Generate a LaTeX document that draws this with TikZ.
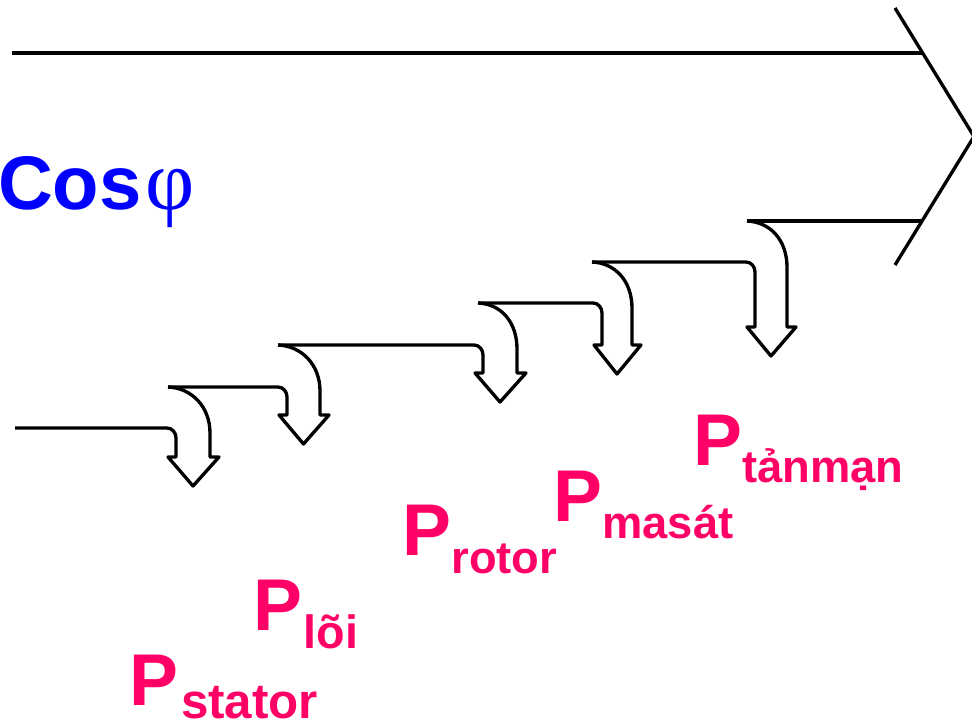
\documentclass[tikz,border=0pt]{standalone}
\usepackage{fontspec}
\setmainfont{Liberation Sans}
\newfontfamily\greekserif{Liberation Serif}
\usepackage{xcolor}
\usepackage{tikz}
\definecolor{pink}{HTML}{FF0066}
\definecolor{cosblue}{HTML}{0000FF}
\begin{document}
\begin{tikzpicture}[x=0.75pt,y=-0.75pt,line width=2.5pt,line join=round,
  every node/.style={inner sep=0pt,outer sep=0pt},
  bigp/.style={pink,font=\fontsize{55}{60}\selectfont\bfseries,anchor=base west},
  sub/.style={pink,font=\fontsize{34}{40}\selectfont\bfseries,anchor=base west}]
\useasboundingbox (0,0) rectangle (972,725);
% big arrow
\draw (12,53)--(922,53);
\draw (747,221)--(922,221);
\draw (895,8)--(974,136.5)--(895,265);
% curved hollow arrows, one per loss
\foreach \xs/\ys/\xi/\yh/\xo/\xn/\yn in {15/428/176/457/210/168/387,
    168/387/287/415/320/278/345, 278/345/483/373/517/478/303,
    478/303/602/345/632/592/262, 592/262/755/327/787/747/221}
  \draw (\xs,\ys)--(\xi-9,\ys) to[out=0,in=90] (\xi,\ys+10)--(\xi,\yh)
    --(\xi-8,\yh)--({(\xi+\xo)/2},\yh+29)--(\xo+9,\yh)--(\xo,\yh)
    --(\xo,\yn+46) .. controls (\xo,\yn+20) and (\xn+24,\yn+1) .. (\xn,\yn);
% labels
\node[cosblue,font=\fontsize{57}{60}\selectfont\bfseries,anchor=base west] (cos)
  at (-2,209) {Cos\hspace{3pt}{\greekserif\mdseries\fontsize{64}{64}\selectfont φ}};
\node[bigp] (pstator) at (129.5,705) {P};
\node[sub,font=\fontsize{37}{40}\selectfont\bfseries] (sstator)
  at ([xshift=2pt,yshift=-9.75pt]pstator.base east) {stator};
\node[bigp] (ploi) at (253.5,630) {P};
\node[sub,font=\fontsize{35}{40}\selectfont\bfseries] (sloi)
  at ([xshift=1pt,yshift=-13.5pt]ploi.base east) {lõi};
\node[bigp] (protor) at (402.5,555) {P};
\node[sub] (srotor) at ([yshift=-13.5pt]protor.base east) {rotor};
\node[bigp] (pmasat) at (553.5,521) {P};
\node[sub] (smasat) at ([yshift=-12.75pt]pmasat.base east) {masát};
\node[bigp] (ptanman) at (693.5,465) {P};
\node[sub] (stanman) at ([yshift=-12.75pt]ptanman.base east) {tảnmạn};
\end{tikzpicture}
\end{document}
